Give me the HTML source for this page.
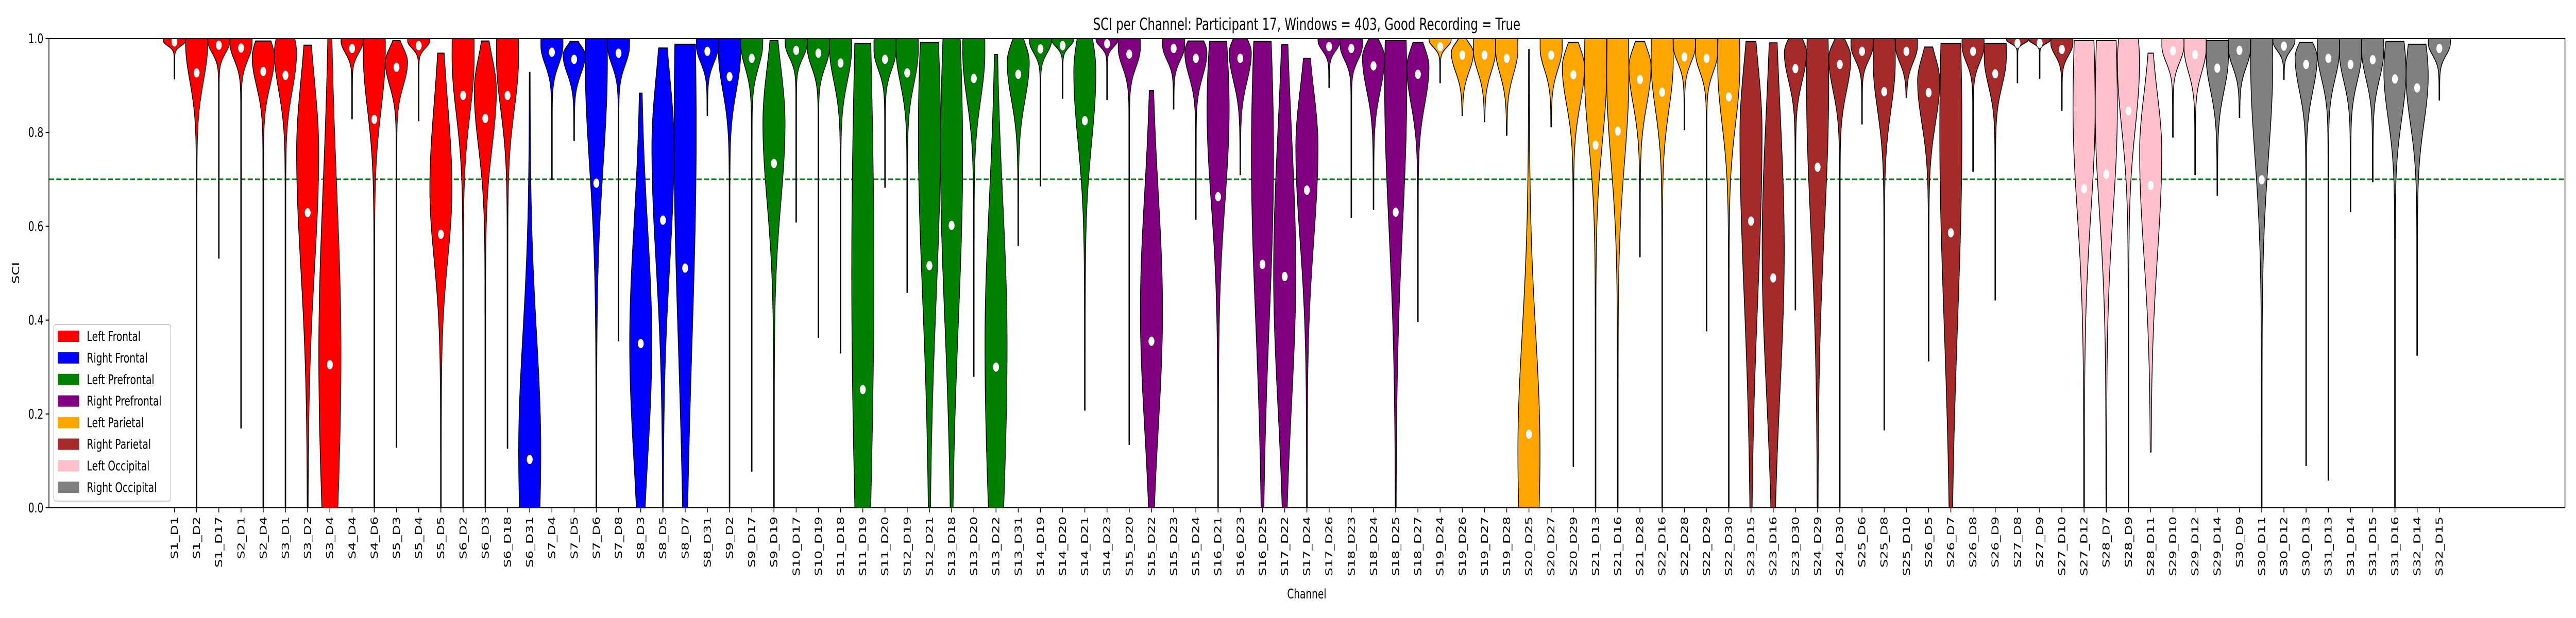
<!DOCTYPE html>
<html><head><meta charset="utf-8"><style>
html,body{margin:0;padding:0;background:#fff;overflow:hidden}
svg{display:block;width:100vw;height:100vh;font-family:"DejaVu Sans","Liberation Sans",sans-serif}
</style></head><body>
<svg id="chart" viewBox="0 0 7000 1200" preserveAspectRatio="none" xmlns="http://www.w3.org/2000/svg">
<rect width="7000" height="1200" fill="#fff"/>
<text x="3551" y="58" font-size="32" text-anchor="middle">SCI per Channel: Participant 17, Windows = 403, Good Recording = True</text>
<g id="violins"></g>
<g id="axes"></g>
<text x="0" y="0" font-size="26" text-anchor="middle" transform="translate(52,530) rotate(-90)">SCI</text>
<text x="3551" y="1162" font-size="26" text-anchor="middle">Channel</text>
<g>
<rect x="146" y="630" width="318" height="343" rx="6" fill="#fff" fill-opacity="0.8" stroke="#ccc" stroke-width="2"/>
<g id="legend-items"></g>
</g>
</svg>
<script>
const channels=["S1_D1","S1_D2","S1_D17","S2_D1","S2_D4","S3_D1","S3_D2","S3_D4","S4_D4","S4_D6","S5_D3","S5_D4","S5_D5","S6_D2","S6_D3","S6_D18","S6_D31","S7_D4","S7_D5","S7_D6","S7_D8","S8_D3","S8_D5","S8_D7","S8_D31","S9_D2","S9_D17","S9_D19","S10_D17","S10_D19","S11_D18","S11_D19","S11_D20","S12_D19","S12_D21","S13_D18","S13_D20","S13_D22","S13_D31","S14_D19","S14_D20","S14_D21","S14_D23","S15_D20","S15_D22","S15_D23","S15_D24","S16_D21","S16_D23","S16_D25","S17_D22","S17_D24","S17_D26","S18_D23","S18_D24","S18_D25","S18_D27","S19_D24","S19_D26","S19_D27","S19_D28","S20_D25","S20_D27","S20_D29","S21_D13","S21_D16","S21_D28","S22_D16","S22_D28","S22_D29","S22_D30","S23_D15","S23_D16","S23_D30","S24_D29","S24_D30","S25_D6","S25_D8","S25_D10","S26_D5","S26_D7","S26_D8","S26_D9","S27_D8","S27_D9","S27_D10","S27_D12","S28_D7","S28_D9","S28_D11","S29_D10","S29_D12","S29_D14","S30_D9","S30_D11","S30_D12","S30_D13","S31_D13","S31_D14","S31_D15","S31_D16","S32_D14","S32_D15"];
const regions=[0,0,0,0,0,0,0,0,0,0,0,0,0,0,0,0,1,1,1,1,1,1,1,1,1,1,2,2,2,2,2,2,2,2,2,2,2,2,2,2,2,2,3,3,3,3,3,3,3,3,3,3,3,3,3,3,3,4,4,4,4,4,4,4,4,4,4,4,4,4,4,5,5,5,5,5,5,5,5,5,5,5,5,5,5,5,6,6,6,6,6,6,7,7,7,7,7,7,7,7,7,7,7,7];
const regionNames=["Left Frontal","Right Frontal","Left Prefrontal","Right Prefrontal","Left Parietal","Right Parietal","Left Occipital","Right Occipital"];
const regionColors=["#ff0000","#0000ff","#008000","#800080","#ffa500","#a52a2a","#ffc0cb","#808080"];
const tops=[1,1,1,1,0.995,1,0.986,1,1,1,0.996,1,0.969,1,0.995,1,0.928,1,0.994,1,1,0.884,0.98,0.988,1,1,1,0.996,1,1,1,0.99,1,1,0.992,1,1,0.966,1,1,1,1,1,1,0.889,1,0.995,0.994,1,0.994,0.987,0.958,1,1,1,0.996,0.992,1,1,1,1,0.977,1,0.992,1,1,0.994,1,1,1,1,0.994,0.991,1,1,1,1,1,1,0.982,0.99,1,0.99,1,1,1,0.996,0.996,1,0.969,1,1,0.996,1,1,1,0.992,1,1,1,0.994,0.988,1];
const modes=[0.995,0.99,0.995,0.99,0.96,0.97,0.76,0.33,0.995,0.97,0.95,0.995,0.68,0.96,0.89,0.96,0.12,0.985,0.965,0.95,0.985,0.35,0.77,0.8,0.985,0.97,0.99,0.82,0.99,0.98,0.98,0.5,0.975,0.975,0.8,0.75,0.97,0.35,0.95,0.995,0.998,0.93,0.998,0.98,0.42,0.985,0.97,0.85,0.97,0.75,0.5,0.77,0.995,0.985,0.96,0.9,0.94,0.997,0.97,0.975,0.975,0.12,0.98,0.94,0.93,0.92,0.94,0.95,0.985,0.97,0.94,0.8,0.55,0.97,0.9,0.96,0.985,0.95,0.985,0.91,0.8,0.985,0.96,0.998,0.998,0.99,0.85,0.85,0.95,0.76,0.985,0.98,0.96,0.98,0.95,0.995,0.96,0.975,0.97,0.975,0.93,0.92,0.99];
const spreadsUp=[0.3,0.3,0.3,0.3,0.04,0.05,0.15,0.35,0.3,0.3,0.03,0.3,0.18,0.3,0.07,0.3,0.25,0.3,0.02,0.3,0.3,0.25,0.15,0.5,0.3,0.3,0.3,0.12,0.3,0.3,0.3,0.6,0.3,0.3,0.3,0.35,0.3,0.3,0.04,0.3,0.3,0.08,0.3,0.3,0.25,0.3,0.03,0.2,0.03,0.35,0.3,0.12,0.3,0.3,0.03,0.3,0.04,0.3,0.02,0.3,0.3,0.25,0.3,0.04,0.3,0.3,0.04,0.3,0.3,0.3,0.3,0.15,0.3,0.03,0.3,0.03,0.3,0.3,0.3,0.05,0.4,0.3,0.3,0.3,0.3,0.3,0.3,0.3,0.1,0.12,0.3,0.3,0.3,0.3,0.3,0.3,0.03,0.3,0.3,0.3,0.1,0.1,0.3];
const spreadsDown=[0.01,0.08,0.025,0.035,0.06,0.08,0.25,0.4,0.025,0.12,0.05,0.015,0.15,0.12,0.12,0.11,0.3,0.04,0.04,0.22,0.04,0.25,0.25,0.45,0.035,0.08,0.05,0.17,0.03,0.04,0.07,0.6,0.04,0.07,0.35,0.35,0.1,0.4,0.08,0.025,0.015,0.15,0.015,0.04,0.25,0.03,0.05,0.2,0.06,0.35,0.28,0.2,0.02,0.03,0.07,0.3,0.08,0.015,0.04,0.045,0.05,0.3,0.045,0.08,0.15,0.18,0.08,0.1,0.035,0.04,0.12,0.35,0.3,0.06,0.3,0.07,0.03,0.1,0.035,0.09,0.4,0.035,0.06,0.008,0.008,0.025,0.22,0.22,0.14,0.22,0.035,0.05,0.07,0.04,0.2,0.02,0.07,0.06,0.06,0.06,0.1,0.1,0.025];
const mins=[0.914,0,0.532,0.17,0,0,0,0,0.829,0,0.129,0.825,0,0,0,0.127,0,0.7,0.783,0,0.356,0,0,0,0.836,0,0.078,0,0.609,0.363,0.33,0,0.683,0.459,0,0,0.28,0,0.559,0.686,0.873,0.208,0.87,0.135,0,0.85,0.615,0,0.71,0,0,0,0.896,0.619,0.636,0,0.397,0.906,0.836,0.823,0.794,0,0.812,0.088,0,0,0.535,0,0.806,0.377,0,0,0,0.422,0,0,0.818,0.166,0.875,0.313,0,0.717,0.443,0.906,0.915,0.847,0,0,0,0.119,0.79,0.71,0.666,0.832,0,0.913,0.09,0.059,0.631,0.695,0,0.325,0.869];
const medians=[0.993,0.927,0.986,0.98,0.93,0.922,0.629,0.305,0.979,0.828,0.939,0.985,0.583,0.879,0.83,0.879,0.103,0.971,0.956,0.692,0.969,0.35,0.613,0.511,0.973,0.919,0.958,0.734,0.975,0.969,0.948,0.252,0.956,0.927,0.516,0.602,0.915,0.3,0.924,0.978,0.985,0.825,0.989,0.967,0.355,0.979,0.958,0.663,0.958,0.519,0.493,0.677,0.983,0.979,0.942,0.63,0.924,0.983,0.965,0.965,0.958,0.157,0.965,0.923,0.773,0.803,0.913,0.886,0.961,0.958,0.876,0.611,0.49,0.936,0.726,0.945,0.973,0.887,0.973,0.885,0.586,0.973,0.925,0.99,0.99,0.977,0.68,0.711,0.846,0.687,0.974,0.966,0.937,0.975,0.699,0.984,0.945,0.958,0.945,0.955,0.914,0.895,0.979];
const yTicks=[0,0.2,0.4,0.6,0.8,1.0];
const yTickLabels=["0.0","0.2","0.4","0.6","0.8","1.0"];
const threshold=0.7;

const NS="http://www.w3.org/2000/svg";
const L=133,R=6970,T=75,B=986,X0=474,DX=60.34,HALF=30;
function xPos(i){return X0+i*DX;}
function yPos(v){return B-v*(B-T);}
function mk(tag,attrs,parent){const e=document.createElementNS(NS,tag);for(const k in attrs)e.setAttribute(k,attrs[k]);parent.appendChild(e);return e;}

const vg=document.getElementById('violins');
const ag=document.getElementById('axes');
const defs=mk('defs',{},vg);
const cp=mk('clipPath',{id:'plotclip'},defs);
mk('rect',{x:L,y:T,width:R-L,height:B-T},cp);
vg.setAttribute('clip-path','url(#plotclip)');

const th=mk('line',{x1:L,x2:R,y1:yPos(threshold),y2:yPos(threshold),stroke:'#008000','stroke-width':3.5,'stroke-dasharray':'14 6'},vg);



for(let i=0;i<channels.length;i++){
  const cx=xPos(i),lo=mins[i],hi=tops[i],m=modes[i];
  const N=300,right=[],left=[];
  for(let k=0;k<=N;k++){
    const v=lo+(hi-lo)*k/N;
    const s=v>m?spreadsUp[i]:spreadsDown[i];
    const g=Math.exp(-0.5*Math.pow((v-m)/s,2));
    const hw=HALF*(0.03+0.97*g);
    right.push((cx+hw).toFixed(1)+','+yPos(v).toFixed(1));
    left.push((cx-hw).toFixed(1)+','+yPos(v).toFixed(1));
  }
  const d='M'+right.join('L')+'L'+left.reverse().join('L')+'Z';
  const p=mk('path',{d:d,fill:regionColors[regions[i]],stroke:'#000','stroke-width':2,'stroke-linejoin':'round'},vg);
  
  
  const c=mk('ellipse',{cx:cx,cy:yPos(medians[i]),rx:8,ry:9,fill:'#fff'},vg);
  
  
}

const fr=mk('rect',{x:L,y:T,width:R-L,height:B-T,fill:'none',stroke:'#000','stroke-width':2},ag);


for(let j=0;j<yTicks.length;j++){
  const y=yPos(yTicks[j]);
  const tl=mk('line',{x1:L-9,x2:L,y1:y,y2:y,stroke:'#000','stroke-width':2},ag);
  
  
  const tx=mk('text',{x:L-15,y:y+9,'font-size':26,'text-anchor':'end'},ag);
  tx.textContent=yTickLabels[j];
  
  
}
for(let i=0;i<channels.length;i++){
  const x=xPos(i);
  const tl=mk('line',{x1:x,x2:x,y1:B,y2:B+9,stroke:'#000','stroke-width':2},ag);
  
  
  const tx=mk('text',{x:0,y:0,'font-size':26,'text-anchor':'end',transform:'translate('+(x+9)+','+(B+17)+') rotate(-90)'},ag);
  tx.textContent=channels[i];
  
  
}
const lg=document.getElementById('legend-items');
for(let j=0;j<regionNames.length;j++){
  const y=653+j*41.9;
  const r=mk('rect',{x:157,y:y-11,width:58,height:22,fill:regionColors[j]},lg);
  
  
  const t=mk('text',{x:236,y:y+9,'font-size':26},lg);
  t.textContent=regionNames[j];
  
  
}
</script>
</body></html>
